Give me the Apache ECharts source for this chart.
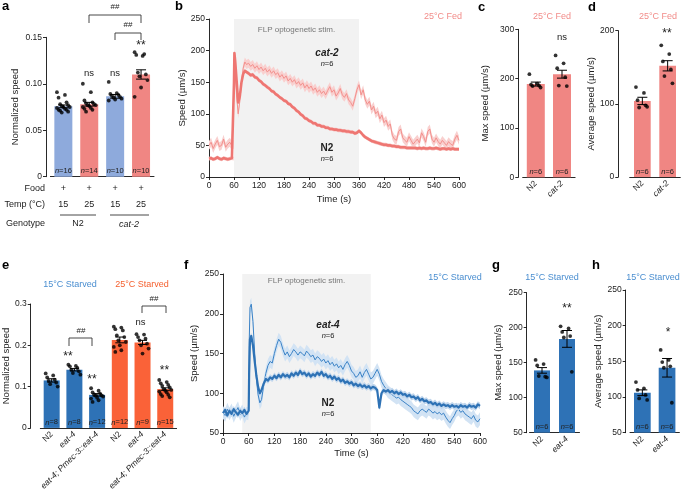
<!DOCTYPE html>
<html><head><meta charset="utf-8">
<script src="https://cdn.jsdelivr.net/npm/echarts@6/dist/echarts.min.js"></script>
<style>html,body{margin:0;padding:0;background:#fff}#c{width:685px;height:493px}</style>
</head><body><div id="c"></div><script>
// ---------------- DATA ----------------
// Panel a
const aFood = ['+','+','+','+'];
const aTemp = ['15','25','15','25'];
const aMean = [0.0757, 0.078, 0.0865, 0.110];
const aSem = [0.0015, 0.002, 0.002, 0.005];
const aN = [16, 14, 10, 10];
const aDots = [
  [0.091,0.088,0.085,0.080,0.078,0.077,0.076,0.075,0.075,0.074,0.073,0.072,0.072,0.071,0.070,0.069],
  [0.100,0.091,0.082,0.080,0.079,0.078,0.077,0.077,0.076,0.075,0.074,0.073,0.072,0.070],
  [0.102,0.090,0.089,0.088,0.087,0.086,0.085,0.084,0.083,0.082],
  [0.134,0.130,0.131,0.132,0.112,0.110,0.108,0.104,0.096,0.086]
];
// Panels b & f (time courses)
const timeSec = [0,5,10,15,20,25,30,35,40,45,50,55,59,60,61,63,66,70,74,78,82,86,90,
  95,100,105,110,115,120,125,130,135,140,145,150,155,160,165,170,175,180,185,190,195,200,205,210,215,220,225,230,235,240,
  245,250,255,260,265,270,275,280,285,290,295,300,305,310,315,320,325,330,335,340,345,350,355,360,365,370,375,380,385,390,
  395,400,405,410,415,420,425,430,435,440,445,450,455,460,465,470,475,480,485,490,495,500,505,510,515,520,525,530,535,540,
  545,550,555,560,565,570,575,580,585,590,595,600];
const fedN2Speed = [29,30,28,29,31,29,28,30,29,28,29,30,
  29,150,196,182,155,118,128,150,163,168,166,
  164,161,162,158,157,153,151,147,145,142,
  140,136,135,131,129,126,124,121,120,116,
  115,111,109,105,103,99,97,93,92,89,
  88,85,85,82,82,80,80,78,78,76,
  76,75,75,74,74,73,73,72,72,71,
  71,69,70,73,70,66,63,61,59,57,
  56,55,54,53,52,51,51,50,50,49,
  49,48,48,47,47,47,46,46,46,46,
  46,45,46,45,46,45,45,46,45,45,
  46,45,44,45,45,44,45,44,45,44,
  44,44];
const fedCat2Speed = [50,55,45,52,58,48,50,60,47,52,55,49,
  52,140,188,170,130,100,120,150,172,182,178,
  180,175,178,172,176,170,174,168,172,166,
  170,164,168,162,165,158,162,156,160,152,
  156,150,154,147,151,145,149,141,146,140,
  144,137,141,134,138,132,136,130,137,143,
  134,138,128,133,140,130,126,132,122,118,
  112,124,138,146,130,138,122,115,120,106,
  112,100,104,92,98,86,90,80,84,66,
  60,58,72,76,62,58,55,64,58,52,
  56,60,54,70,64,55,72,76,60,55,
  62,56,52,58,54,50,56,52,50,60,
  66,58];
const starvedN2Speed = [75,79,72,78,74,80,76,73,78,75,79,74,
  76,78,125,168,172,160,140,122,108,100,104,
  112,118,116,120,118,122,119,123,120,124,
  121,123,120,125,122,126,123,128,124,126,
  122,125,121,124,122,126,123,127,122,124,
  120,122,118,121,117,119,115,117,113,115,
  112,114,110,112,109,111,108,110,107,109,
  106,108,107,104,82,100,104,102,104,101,
  103,100,102,99,101,98,99,96,98,95,
  96,93,95,91,93,90,91,88,89,86,
  88,85,87,84,86,84,85,83,85,83,
  84,82,85,83,84,82,85,83,84,82,
  86,84];
const starvedEat4Speed = [76,72,80,74,79,71,77,82,73,78,70,75,
  74,80,160,208,212,190,150,118,98,88,92,
  110,125,135,140,138,150,160,168,164,155,
  148,152,146,150,155,152,148,152,150,147,
  153,150,146,148,142,146,144,140,143,138,
  141,136,139,134,137,132,135,130,136,140,
  135,128,125,120,122,127,120,126,130,124,
  118,120,125,130,124,115,110,106,102,100,
  98,96,94,95,92,90,88,86,84,82,
  78,76,74,78,80,78,76,80,78,75,
  77,74,76,73,75,70,66,63,68,72,
  78,80,76,78,74,72,70,68,72,66,
  64,68];
const stimB = [60, 360];
const stimF = [45, 345];
// Panel c
const cCats = ['N2','cat-2'];
const cMean = [189, 209];
const cSem = [4, 8];
const cN = [6, 6];
const cDots = [[209,190,188,186,185,182],[247,231,221,203,186,185]];
// Panel d
const dCats = ['N2','cat-2'];
const dMean = [104, 152];
const dSem = [5, 7];
const dN = [6, 6];
const dDots = [[123,115,105,98,95,96],[180,168,158,147,138,128]];
// Panel e
const eCats = ['N2','eat-4','eat-4; Pmec-3::eat-4','N2','eat-4','eat-4; Pmec-3::eat-4'];
const eMean = [0.115, 0.141, 0.080, 0.213, 0.207, 0.094];
const eSem = [0.004, 0.003, 0.003, 0.007, 0.005, 0.003];
const eN = [8, 8, 12, 12, 9, 15];
const eDots = [
  [0.132,0.127,0.122,0.117,0.114,0.110,0.106,0.100],
  [0.153,0.150,0.149,0.145,0.141,0.137,0.133,0.129],
  [0.096,0.090,0.086,0.083,0.081,0.079,0.078,0.076,0.073,0.071,0.067,0.063],
  [0.245,0.243,0.239,0.236,0.224,0.220,0.212,0.208,0.200,0.196,0.188,0.184],
  [0.227,0.226,0.220,0.216,0.212,0.204,0.200,0.192,0.180],
  [0.116,0.111,0.108,0.104,0.102,0.098,0.094,0.092,0.090,0.088,0.086,0.082,0.080,0.077,0.074]
];
// Panel g
const gCats = ['N2','eat-4'];
const gMean = [139, 184];
const gSem = [4, 12];
const gN = [6, 6];
const gDots = [[154,148,146,130,131,129],[202,199,194,188,186,137]];
// Panel h
const hCats = ['N2','eat-4'];
const hMean = [106, 141];
const hSem = [4, 13];
const hN = [6, 6];
const hDots = [[121,112,110,103,98,96],[166,152,149,143,141,92]];

// ---------------- STYLE ----------------
const FONT = '"Liberation Sans", Arial, sans-serif';
const PINK = '#f08683', LBLUE = '#8eaadc', BLUE = '#2e72b6', ORANGE = '#fa6238';
const TXT = '#222';

const grids = [
  {left:50.4, top:37.3, width:103.6, height:139.4},   // a
  {left:209, top:19, width:250, height:158},          // b
  {left:522.7, top:29.3, width:52.4, height:148},     // c
  {left:629.7, top:30.7, width:50.6, height:146.3},   // d
  {left:31.6, top:304, width:145, height:127.7},      // e
  {left:223, top:274, width:257, height:159},         // f
  {left:529.5, top:292.7, width:50, height:140},      // g
  {left:630, top:290, width:49.4, height:142.7}       // h
];

const aLine = {lineStyle:{color:'#111', width:0.9}};
const aTick = {length:3, lineStyle:{color:'#111', width:0.9}};
const lab = {fontFamily:FONT, fontSize:8.5, color:TXT, margin:4};
const itRich = {it:{fontStyle:'italic', fontFamily:FONT, fontSize:8.5, color:TXT}};

function yAx(gi, min, max, interval, name, nameGap, offset, fmt) {
  return {type:'value', gridIndex:gi, min, max, interval, offset:offset||0,
    name, nameLocation:'middle', nameGap, nameRotate:90,
    nameTextStyle:{fontFamily:FONT, fontSize:9.5, color:TXT},
    axisLine:{show:true, ...aLine}, axisTick:{show:true, ...aTick},
    axisLabel:{...lab, formatter:fmt}, splitLine:{show:false}};
}
function catAx(gi, cats) {
  return {type:'category', gridIndex:gi, data:cats, axisLine:aLine, axisTick:{show:false},
    axisLabel:{...lab, rotate:45, margin:5, rich:itRich,
      formatter:v => v === 'N2' ? 'N2' : '{it|' + v + '}'}};
}
function timeAx(gi, nameGap) {
  return {type:'value', gridIndex:gi, min:0, max:600, interval:60,
    name:'Time (s)', nameLocation:'middle', nameGap,
    nameTextStyle:{fontFamily:FONT, fontSize:9.5, color:TXT},
    axisLine:aLine, axisTick:aTick, axisLabel:lab, splitLine:{show:false}};
}

function bars(gi, means, colors, ns, bw) {
  return {type:'bar', xAxisIndex:gi, yAxisIndex:gi, barWidth:bw, z:2, silent:true,
    data: means.map((m,i) => ({value:m, itemStyle:{color:colors[i]}})),
    label:{show:true, position:'insideBottom', distance:1.5, fontFamily:FONT, fontSize:7.5, color:TXT,
      formatter:p => '{i|n}=' + ns[p.dataIndex],
      rich:{i:{fontStyle:'italic', fontFamily:FONT, fontSize:7.5, color:TXT}}}};
}
function dots(gi, groups, spread) {
  const data = [];
  groups.forEach((arr, ci) => arr.forEach((v, j) => {
    const k = (j * 5) % 9 - 4;
    data.push({value:[ci, v], symbolOffset:[k * spread, 0]});
  }));
  return {type:'scatter', xAxisIndex:gi, yAxisIndex:gi, symbolSize:3.8, z:3, silent:true,
    itemStyle:{color:'#000'}, data};
}
function errs(gi, means, sems, cap) {
  return {type:'custom', xAxisIndex:gi, yAxisIndex:gi, z:4, silent:true,
    data: means.map((m,i) => [i, m, sems[i]]),
    renderItem:(p, api) => {
      const c = api.value(0), m = api.value(1), s = api.value(2);
      const hi = api.coord([c, m + s]), lo = api.coord([c, m - s]);
      const st = {stroke:'#000', lineWidth:1};
      return {type:'group', children:[
        {type:'line', shape:{x1:hi[0], y1:hi[1], x2:lo[0], y2:lo[1]}, style:st},
        {type:'line', shape:{x1:hi[0]-cap, y1:hi[1], x2:hi[0]+cap, y2:hi[1]}, style:st},
        {type:'line', shape:{x1:lo[0]-cap, y1:lo[1], x2:lo[0]+cap, y2:lo[1]}, style:st}]};
    }};
}
// translucent error band (constant half-width as a drawing style) + the mean trace on top
function trace(gi, vals, color, width, band, hw, z) {
  const data = timeSec.map((t,i) => [t, vals[i]]);
  return [
    {type:'custom', xAxisIndex:gi, yAxisIndex:gi, z:z, silent:true, clip:true, data,
      renderItem:(p, api) => {
        if (p.dataIndex !== 0) return null;
        const up = data.map(d => api.coord([d[0], d[1] + hw]));
        const lo = data.map(d => api.coord([d[0], d[1] - hw])).reverse();
        return {type:'polygon', shape:{points: up.concat(lo)}, style:{fill:band}};
      }},
    {type:'line', xAxisIndex:gi, yAxisIndex:gi, data, showSymbol:false, symbol:'none', silent:true, z:z+1,
      lineStyle:{color, width, join:'round'}}
  ];
}
function stim(gi, win, y0, y1, dist) {
  return {type:'line', xAxisIndex:gi, yAxisIndex:gi, data:[], clip:false, z:0, silent:true,
    markArea:{silent:true, itemStyle:{color:'#f2f2f2'},
      label:{show:true, position:'insideTop', distance:dist, color:'#777', fontSize:8, fontFamily:FONT},
      data:[[{name:'FLP optogenetic stim.', xAxis:win[0], yAxis:y0}, {xAxis:win[1], yAxis:y1}]]}};
}

// ---------------- GRAPHIC ANNOTATIONS ----------------
function T(x, y, text, o) {
  o = o || {};
  return {type:'text', x, y, silent:true, z:10, style:{text, fontFamily:FONT, fontSize:o.size||9,
    fontWeight:o.bold?'bold':'normal', fontStyle:o.it?'italic':'normal', fill:o.color||TXT,
    align:o.align||'center', verticalAlign:'middle', rich:o.rich}};
}
function L(points) {
  return {type:'polyline', silent:true, z:10, shape:{points}, style:{stroke:'#333', lineWidth:0.9, fill:null}};
}
const nRich = {i:{fontStyle:'italic', fontFamily:FONT, fontSize:7.5, fill:TXT}};
const nLab = (x, y) => T(x, y, '{i|n}=6', {size:7.5, rich:nRich});
const PL = (x, y, c) => T(x, y, c, {size:13, bold:true, align:'left', color:'#000'});
const FEDC = '#f28c89', STBLUE = '#4a8ed0', STOR = '#f5602f';

const graphic = [
  PL(2,6,'a'), PL(175,6,'b'), PL(478,7,'c'), PL(588,7,'d'),
  PL(2,265,'e'), PL(184,265,'f'), PL(492,265,'g'), PL(592,265,'h'),
  T(45,189,'Food',{align:'right'}), T(45,205,'Temp (°C)',{align:'right'}), T(45,224,'Genotype',{align:'right'}),
  L([[60,215],[96,215]]), L([[110,215],[149,215]]),
  T(78,224,'N2'), T(129,224,'cat-2',{it:true}),
  L([[89,23],[89,15],[141,15],[141,23]]), T(115,7,'##',{size:8}),
  L([[115,40],[115,33],[141,33],[141,40]]), T(128,25,'##',{size:8}),
  T(89,73,'ns',{size:9.5}), T(115,73,'ns',{size:9.5}), T(141,46,'**',{size:12}),
  T(443,17,'25°C Fed',{color:FEDC,size:9}),
  T(327,53,'cat-2',{bold:true,it:true,size:10}), nLab(327,64),
  T(327,148,'N2',{bold:true,size:10}), nLab(327,159),
  T(552,17,'25°C Fed',{color:FEDC,size:9}), T(562,37,'ns',{size:9.5}),
  T(658,17,'25°C Fed',{color:FEDC,size:9}), T(667,34,'**',{size:12}),
  T(70,285,'15°C Starved',{color:STBLUE,size:9}), T(142,285,'25°C Starved',{color:STOR,size:9}),
  L([[69,346],[69,338],[92,338],[92,346]]), T(81,331,'##',{size:8}),
  L([[142,313],[142,306],[166,306],[166,313]]), T(154,299,'##',{size:8}),
  T(68,357,'**',{size:12}), T(92,380,'**',{size:12}), T(140.5,322,'ns',{size:9.5}), T(164.5,371,'**',{size:12}),
  T(455,278,'15°C Starved',{color:STBLUE,size:9}),
  T(328,325,'eat-4',{bold:true,it:true,size:10}), nLab(328,336),
  T(328,403,'N2',{bold:true,size:10}), nLab(328,414),
  T(552,278,'15°C Starved',{color:STBLUE,size:9}), T(567,309,'**',{size:12}),
  T(653,278,'15°C Starved',{color:STBLUE,size:9}), T(668,333,'*',{size:12})
];

// ---------------- OPTION ----------------
const fmt2 = v => v === 0 ? '0' : v.toFixed(2);
const fmt1 = v => v === 0 ? '0' : v.toFixed(1);

const option = {
  animation:false,
  backgroundColor:'#fff',
  grid: grids,
  xAxis: [
    {type:'category', gridIndex:0, data:aFood.map((f,i)=>i), axisLine:aLine, axisTick:{show:false},
      axisLabel:{...lab, fontSize:9, margin:4, lineHeight:16, formatter:(v,i)=> aFood[i] + '\n' + aTemp[i]}},
    timeAx(1, 17),
    catAx(2, cCats),
    catAx(3, dCats),
    catAx(4, eCats),
    timeAx(5, 15),
    catAx(6, gCats),
    catAx(7, hCats)
  ],
  yAxis: [
    yAx(0, 0, 0.15, 0.05, 'Normalized speed', 26, 4.4, fmt2),
    yAx(1, 0, 250, 50, 'Speed (µm/s)', 21, 0),
    yAx(2, 0, 300, 100, 'Max speed (µm/s)', 28, 4.4),
    yAx(3, 0, 200, 100, 'Average speed (µm/s)', 18, 11.4),
    yAx(4, 0, 0.3, 0.1, 'Normalized speed', 12, 9.6, fmt1),
    yAx(5, 50, 250, 50, 'Speed (µm/s)', 24, 0),
    yAx(6, 50, 250, 50, 'Max speed (µm/s)', 23, 2.8),
    yAx(7, 50, 250, 50, 'Average speed (µm/s)', 22, 4.3)
  ],
  graphic,
  series: [
    bars(0, aMean, [LBLUE, PINK, LBLUE, PINK], aN, 18), dots(0, aDots, 1.6), errs(0, aMean, aSem, 5),
    stim(1, stimB, 0, 250, 7),
    ...trace(1, fedCat2Speed, '#f3908d', 1, '#f9d0cf', 7, 2),
    ...trace(1, fedN2Speed, '#ee7672', 2.6, '#f7c2c0', 3, 5),
    bars(2, cMean, [PINK, PINK], cN, 18), dots(2, cDots, 1.6), errs(2, cMean, cSem, 5),
    bars(3, dMean, [PINK, PINK], dN, 16.7), dots(3, dDots, 1.6), errs(3, dMean, dSem, 5),
    bars(4, eMean, [BLUE, BLUE, BLUE, ORANGE, ORANGE, ORANGE], eN, 16), dots(4, eDots, 1.5), errs(4, eMean, eSem, 4.5),
    stim(5, stimF, 50, 250, 3),
    ...trace(5, starvedEat4Speed, '#3a82c6', 1, '#d2e3f4', 8, 2),
    ...trace(5, starvedN2Speed, '#2e72b5', 2.2, '#c0d6ed', 4, 5),
    bars(6, gMean, [BLUE, BLUE], gN, 16), dots(6, gDots, 1.6), errs(6, gMean, gSem, 5),
    bars(7, hMean, [BLUE, BLUE], hN, 16.7), dots(7, hDots, 1.6), errs(7, hMean, hSem, 5)
  ]
};
const chart = echarts.init(document.getElementById('c'), null, {renderer:'canvas'});
chart.setOption(option);
</script></body></html>
